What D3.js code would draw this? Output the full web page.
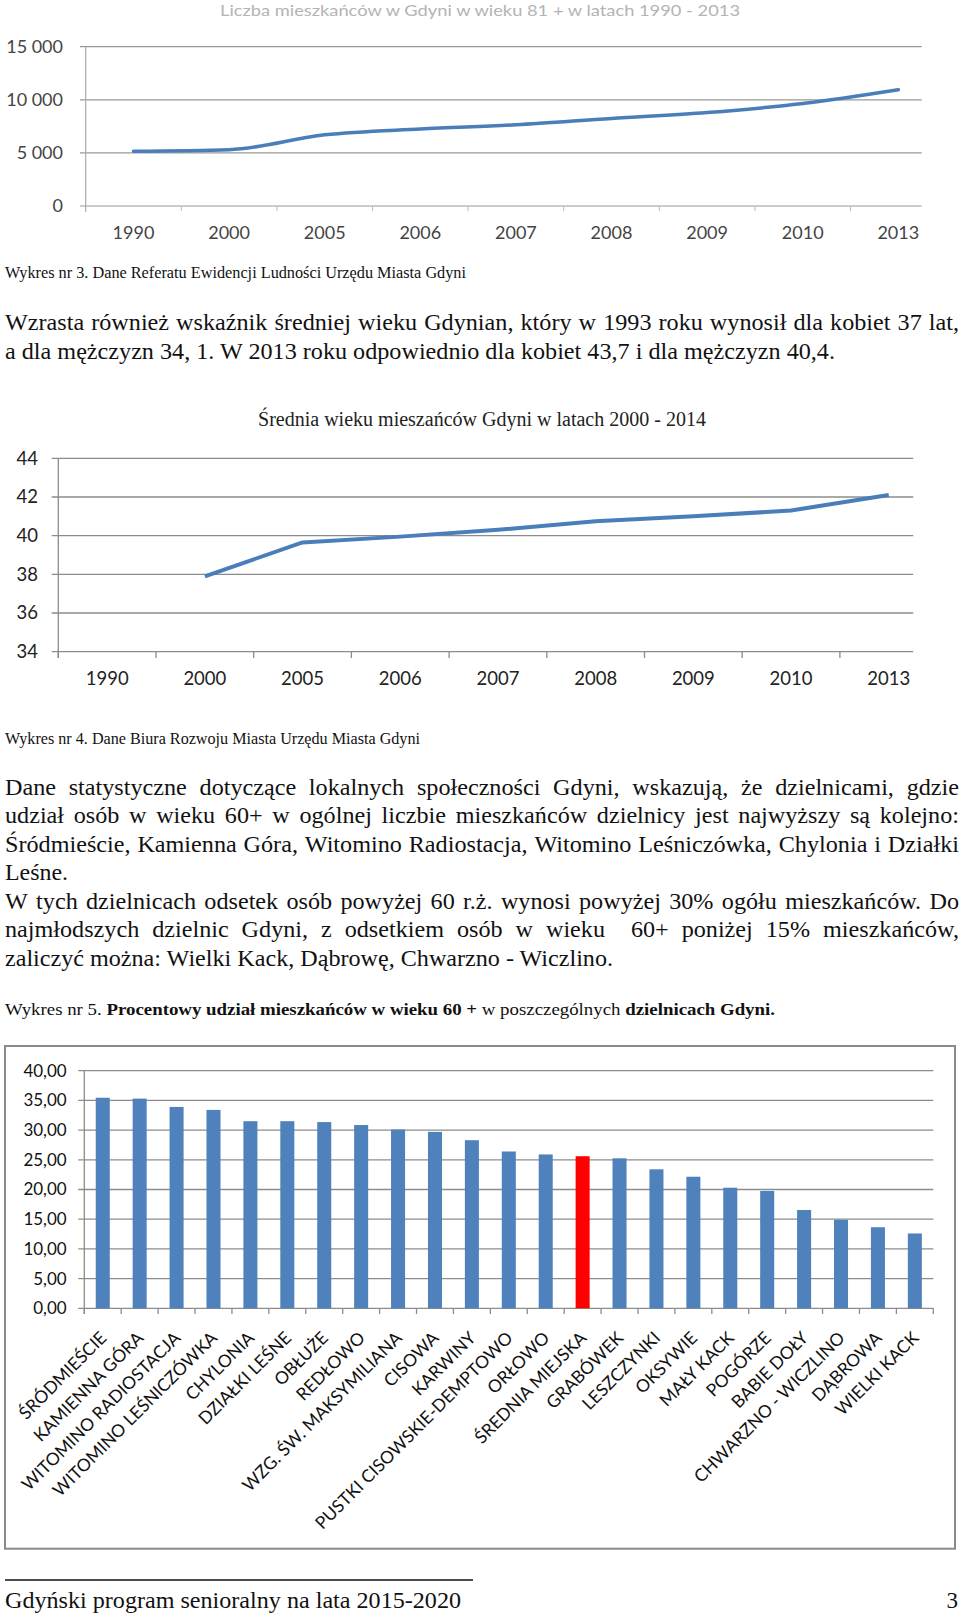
<!DOCTYPE html>
<html><head><meta charset="utf-8">
<script src="https://cdn.jsdelivr.net/npm/d3@7"></script>
<style>body{margin:0;background:#fff}svg{display:block}</style>
</head><body><svg id="page" width="960" height="1616"></svg>
<script>
// ---------- DATA ----------
// Chart 1: residents aged 81+
const years1 = ["1990","2000","2005","2006","2007","2008","2009","2010","2013"];
const seniors81 = [5150,5300,6700,7250,7650,8250,8800,9650,10950];
const ticks1 = [0,5000,10000,15000];
const tickLabels1 = ["0","5 000","10 000","15 000"];
const title1 = "Liczba mieszkańców w Gdyni w wieku 81 + w latach 1990 - 2013";

// Chart 2: mean age
const years2 = ["1990","2000","2005","2006","2007","2008","2009","2010","2013"];
const meanAge = [null,37.9,39.65,39.95,40.3,40.75,41.0,41.3,42.1];
const ticks2 = [34,36,38,40,42,44];
const title2 = "Średnia wieku mieszańców Gdyni w latach 2000 - 2014";

// Chart 3: share of residents aged 60+ by district
const districts = ["ŚRÓDMIEŚCIE","KAMIENNA GÓRA","WITOMINO RADIOSTACJA","WITOMINO LEŚNICZÓWKA","CHYLONIA","DZIAŁKI LEŚNE","OBŁUŻE","REDŁOWO","WZG. ŚW. MAKSYMILIANA","CISOWA","KARWINY","PUSTKI CISOWSKIE-DEMPTOWO","ORŁOWO","ŚREDNIA MIEJSKA","GRABÓWEK","LESZCZYNKI","OKSYWIE","MAŁY KACK","POGÓRZE","BABIE DOŁY","CHWARZNO - WICZLINO","DĄBROWA","WIELKI KACK"];
const share60 = [35.45,35.3,33.9,33.4,31.5,31.5,31.35,30.85,30.1,29.7,28.3,26.4,25.9,25.6,25.25,23.4,22.15,20.3,19.75,16.55,14.9,13.65,12.6];
const ticks3 = [0,5,10,15,20,25,30,35,40];
const highlight = "ŚREDNIA MIEJSKA";

// ---------- SETUP ----------
const svg = d3.select("#page");
const SERIF = "'Liberation Serif','Times New Roman',serif";
const SANS = "Lato,'Open Sans',sans-serif";
const BLUE = "#4a7ebb", BAR = "#4f81bd", GRID = "#8c8c8c";
const BODY = 23;

// ---------- CHART 1 ----------
{
  const g = svg.append("g");
  const x = d3.scaleBand().domain(years1).range([85.7, 85.7 + 9*95.6]);
  const y = d3.scaleLinear().domain([0,15000]).range([206,46.7]);
  g.append("text").attr("x",220).attr("y",16).attr("textLength",520).attr("lengthAdjust","spacingAndGlyphs")
    .attr("font-family",SANS).attr("font-size",16).attr("fill","#b4b4b4").text(title1);
  g.selectAll(".gl").data(ticks1).join("line").attr("x1",80).attr("x2",921.7)
    .attr("y1",d=>y(d)).attr("y2",d=>y(d)).attr("stroke","#999").attr("stroke-width",1.2);
  g.append("line").attr("x1",85.7).attr("x2",85.7).attr("y1",y(15000)).attr("y2",212).attr("stroke","#aaa").attr("stroke-width",1.2);
  g.selectAll(".xt").data(years1.slice(1)).join("line")
    .attr("x1",d=>x(d)).attr("x2",d=>x(d)).attr("y1",206).attr("y2",211).attr("stroke","#bbb");
  g.selectAll(".yl").data(ticks1).join("text").attr("x",63).attr("y",d=>y(d)).attr("dy","0.35em")
    .attr("text-anchor","end").attr("font-family",SANS).attr("font-size",18).attr("fill","#444")
    .text((d,i)=>tickLabels1[i]);
  g.selectAll(".xl").data(years1).join("text").attr("x",d=>x(d)+x.bandwidth()/2).attr("y",233).attr("dy","0.35em")
    .attr("text-anchor","middle").attr("font-family",SANS).attr("font-size",18).attr("fill","#444").text(d=>d);
  const line = d3.line().x((d,i)=>x(years1[i])+x.bandwidth()/2).y(d=>y(d)).curve(d3.curveMonotoneX);
  g.append("path").attr("d",line(seniors81)).attr("fill","none").attr("stroke",BLUE).attr("stroke-width",3.5).attr("stroke-linecap","round");
}

// ---------- TEXT HELPERS ----------
function measure(str, size) {
  const t = svg.append("text").attr("font-family",SERIF).attr("font-size",size).text(str);
  const l = str ? t.node().getComputedTextLength() : 0; t.remove(); return l;
}
// horizontal squeeze factor calibrated on a left-aligned reference line
const K = 830 / measure("a dla mężczyzn 34, 1. W 2013 roku odpowiednio dla kobiet 43,7 i dla mężczyzn 40,4.", BODY);

function textLine(x0, yb, str, w, justify, size) {
  if (justify) {
    const words = str.split(" ");
    const ws = words.map(wd => measure(wd, size) * K);
    const gap = (w - d3.sum(ws)) / (words.length - 1);
    let cx = x0;
    words.forEach((wd,i) => {
      if (wd) svg.append("text").attr("x",cx).attr("y",yb).attr("font-family",SERIF).attr("font-size",size)
        .attr("fill","#111").attr("textLength",ws[i]).attr("lengthAdjust","spacingAndGlyphs").text(wd);
      cx += ws[i] + gap;
    });
  } else {
    const t = svg.append("text").attr("x",x0).attr("y",yb).attr("font-family",SERIF).attr("font-size",size).attr("fill","#111").text(str);
    if (w) t.attr("textLength",w).attr("lengthAdjust","spacingAndGlyphs");
  }
}

textLine(5, 278, "Wykres nr 3. Dane Referatu Ewidencji Ludności Urzędu Miasta Gdyni", 461, false, 16);
textLine(5, 330, "Wzrasta również wskaźnik średniej wieku Gdynian, który w 1993 roku wynosił dla kobiet 37 lat,", 954, true, BODY);
textLine(5, 359, "a dla mężczyzn 34, 1. W 2013 roku odpowiednio dla kobiet 43,7 i dla mężczyzn 40,4.", 830, false, BODY);

// ---------- CHART 2 ----------
{
  const g = svg.append("g");
  const x = d3.scaleBand().domain(years2).range([58.3, 58.3 + 9*97.7]);
  const y = d3.scaleLinear().domain([34,44]).range([651.7,458.3]);
  g.append("text").attr("x",258).attr("y",426).attr("textLength",448).attr("lengthAdjust","spacingAndGlyphs")
    .attr("font-family",SERIF).attr("font-size",20).attr("fill","#222").text(title2);
  g.selectAll(".gl").data(ticks2).join("line").attr("x1",51.7).attr("x2",913.3)
    .attr("y1",d=>y(d)).attr("y2",d=>y(d)).attr("stroke",GRID).attr("stroke-width",1.3);
  g.append("line").attr("x1",58.3).attr("x2",58.3).attr("y1",y(44)).attr("y2",658).attr("stroke",GRID).attr("stroke-width",1.3);
  g.selectAll(".xt").data(years2).join("line")
    .attr("x1",d=>x(d)).attr("x2",d=>x(d)).attr("y1",651.7).attr("y2",658).attr("stroke",GRID).attr("stroke-width",1.3);
  g.selectAll(".yl").data(ticks2).join("text").attr("x",38).attr("y",d=>y(d)).attr("dy","0.35em")
    .attr("text-anchor","end").attr("font-family",SANS).attr("font-size",18.5).attr("fill","#222").text(d=>d);
  g.selectAll(".xl").data(years2).join("text").attr("x",d=>x(d)+x.bandwidth()/2).attr("y",678.5).attr("dy","0.35em")
    .attr("text-anchor","middle").attr("font-family",SANS).attr("font-size",18.5).attr("fill","#222").text(d=>d);
  const line = d3.line().defined(d=>d!=null).x((d,i)=>x(years2[i])+x.bandwidth()/2).y(d=>y(d));
  g.append("path").attr("d",line(meanAge)).attr("fill","none").attr("stroke",BLUE).attr("stroke-width",4).attr("stroke-linejoin","round");
}

textLine(5, 744, "Wykres nr 4. Dane Biura Rozwoju Miasta Urzędu Miasta Gdyni", 415, false, 16);

const para2 = [
  ["Dane statystyczne dotyczące lokalnych społeczności Gdyni, wskazują, że dzielnicami, gdzie", 795, 954, true],
  ["udział osób w wieku 60+ w ogólnej liczbie mieszkańców dzielnicy jest najwyższy są kolejno:", 823, 954, true],
  ["Śródmieście, Kamienna Góra, Witomino Radiostacja, Witomino Leśniczówka, Chylonia i Działki", 851.5, 954, true],
  ["Leśne.", 880, 63, false],
  ["W tych dzielnicach odsetek osób powyżej 60 r.ż. wynosi powyżej 30% ogółu mieszkańców. Do", 908.5, 954, true],
  ["najmłodszych dzielnic Gdyni, z odsetkiem osób w wieku  60+ poniżej 15% mieszkańców,", 937, 954, true],
  ["zaliczyć można: Wielki Kack, Dąbrowę, Chwarzno - Wiczlino.", 966, 608, false]
];
para2.forEach(p => textLine(5, p[1], p[0], p[2], p[3], BODY));

{
  const t = svg.append("text").attr("x",5).attr("y",1015).attr("font-family",SERIF).attr("font-size",16.5).attr("fill","#111")
    .attr("textLength",770).attr("lengthAdjust","spacingAndGlyphs");
  t.append("tspan").text("Wykres nr 5.  ");
  t.append("tspan").attr("font-weight","bold").text("Procentowy udział mieszkańców w wieku 60 +");
  t.append("tspan").text(" w poszczególnych ");
  t.append("tspan").attr("font-weight","bold").text("dzielnicach Gdyni.");
}

// ---------- CHART 3 ----------
{
  const g = svg.append("g");
  g.append("rect").attr("x",5).attr("y",1046).attr("width",950).attr("height",502.7)
    .attr("fill","none").attr("stroke","#8a8a8a").attr("stroke-width",2);
  const x = d3.scaleBand().domain(districts).range([84.3,933.3]).paddingInner(0.62).paddingOuter(0.31);
  const y = d3.scaleLinear().domain([0,40]).range([1308.3,1070.7]);
  const fmt = d => d3.format(".2f")(d).replace(".",",");
  g.selectAll(".gl").data(ticks3).join("line").attr("x1",78.3).attr("x2",933.3)
    .attr("y1",d=>y(d)).attr("y2",d=>y(d)).attr("stroke",GRID).attr("stroke-width",1.3);
  g.append("line").attr("x1",84.3).attr("x2",84.3).attr("y1",y(40)).attr("y2",1314).attr("stroke",GRID).attr("stroke-width",1.3);
  const step = x.step();
  g.selectAll(".xt").data(d3.range(districts.length+1)).join("line")
    .attr("x1",i=>84.3+i*step).attr("x2",i=>84.3+i*step).attr("y1",1308.3).attr("y2",1314).attr("stroke",GRID).attr("stroke-width",1.3);
  g.selectAll(".bar").data(districts).join("rect")
    .attr("x",d=>x(d)).attr("width",x.bandwidth())
    .attr("y",(d,i)=>y(share60[i])).attr("height",(d,i)=>y(0)-y(share60[i]))
    .attr("fill",d=>d===highlight?"#ff0000":BAR);
  g.selectAll(".yl").data(ticks3).join("text").attr("x",66.7).attr("y",d=>y(d)).attr("dy","0.35em")
    .attr("text-anchor","end").attr("font-family",SANS).attr("font-size",17).attr("fill","#111").text(fmt);
  g.selectAll(".xl").data(districts).join("text")
    .attr("transform",d=>`translate(${x(d)+x.bandwidth()/2+5},1339) rotate(-45)`)
    .attr("text-anchor","end").attr("font-family",SANS).attr("font-size",17.5).attr("fill","#111").text(d=>d);
}

// ---------- FOOTER ----------
svg.append("line").attr("x1",5).attr("x2",473).attr("y1",1580).attr("y2",1580).attr("stroke","#111").attr("stroke-width",1.3);
textLine(5, 1608, "Gdyński program senioralny na lata 2015-2020", 456, false, BODY);
svg.append("text").attr("x",958).attr("y",1608).attr("text-anchor","end").attr("font-family",SERIF).attr("font-size",BODY).attr("fill","#111").text("3");
</script></body></html>
